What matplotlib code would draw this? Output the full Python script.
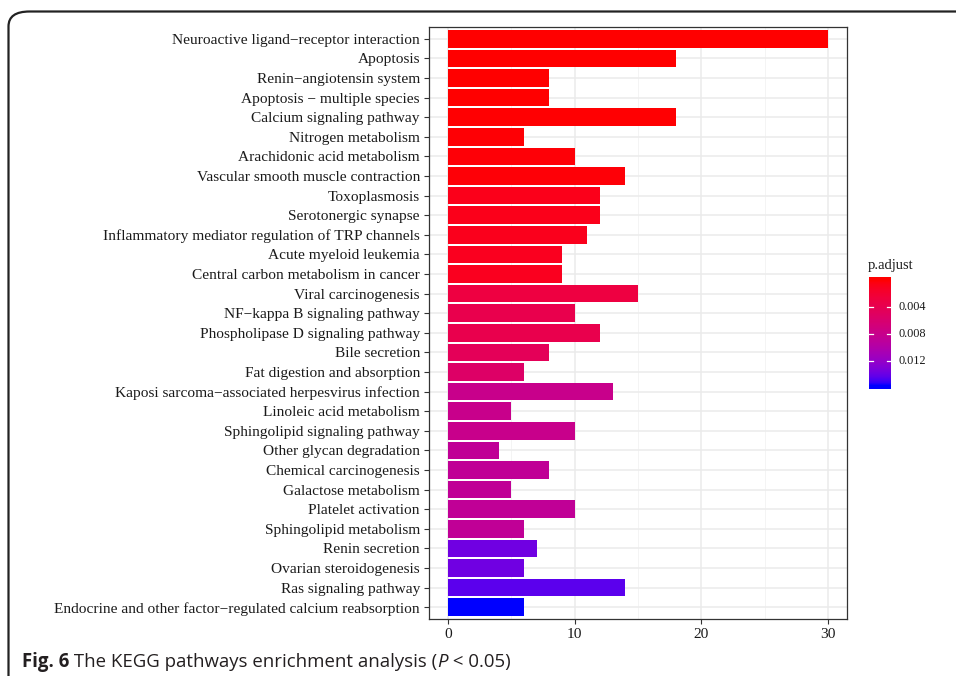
import numpy as np
import matplotlib
matplotlib.use("Agg")
import matplotlib.pyplot as plt
from matplotlib.colors import ListedColormap, Normalize
from matplotlib.patches import FancyBboxPatch

pathways = [
    "Neuroactive ligand\u2212receptor interaction",
    "Apoptosis",
    "Renin\u2212angiotensin system",
    "Apoptosis \u2212 multiple species",
    "Calcium signaling pathway",
    "Nitrogen metabolism",
    "Arachidonic acid metabolism",
    "Vascular smooth muscle contraction",
    "Toxoplasmosis",
    "Serotonergic synapse",
    "Inflammatory mediator regulation of TRP channels",
    "Acute myeloid leukemia",
    "Central carbon metabolism in cancer",
    "Viral carcinogenesis",
    "NF\u2212kappa B signaling pathway",
    "Phospholipase D signaling pathway",
    "Bile secretion",
    "Fat digestion and absorption",
    "Kaposi sarcoma\u2212associated herpesvirus infection",
    "Linoleic acid metabolism",
    "Sphingolipid signaling pathway",
    "Other glycan degradation",
    "Chemical carcinogenesis",
    "Galactose metabolism",
    "Platelet activation",
    "Sphingolipid metabolism",
    "Renin secretion",
    "Ovarian steroidogenesis",
    "Ras signaling pathway",
    "Endocrine and other factor\u2212regulated calcium reabsorption",
]
counts = [30, 18, 8, 8, 18, 6, 10, 14, 12, 12, 11, 9, 9, 15, 10,
          12, 8, 6, 13, 5, 10, 4, 8, 5, 10, 6, 7, 6, 14, 6]
p_adjust = [0.000001, 0.00002, 0.00005, 0.00005, 0.0001, 0.00015, 0.0002, 0.0002,
            0.0008, 0.0008, 0.0009, 0.0010, 0.0010, 0.0030, 0.0038,
            0.0038, 0.0045, 0.0055, 0.0080, 0.0080, 0.0080, 0.0088, 0.0088,
            0.0088, 0.0088, 0.0088, 0.0138, 0.0138, 0.0145, 0.0157]
bar_ticks = [0, 10, 20, 30]
cbar_ticks = [0.004, 0.008, 0.012]


# red -> blue gradient interpolated in CIE Lab, like ggplot's scale_fill_continuous
def srgb_to_lab(rgb):
    c = np.asarray(rgb, float)
    lin = np.where(c <= 0.04045, c / 12.92, ((c + 0.055) / 1.055) ** 2.4)
    m = np.array([[0.4124, 0.3576, 0.1805],
                  [0.2126, 0.7152, 0.0722],
                  [0.0193, 0.1192, 0.9505]])
    xyz = m @ lin / np.array([0.95047, 1.0, 1.08883])
    f = np.where(xyz > 0.008856, np.cbrt(xyz), 7.787 * xyz + 16 / 116)
    return np.array([116 * f[1] - 16, 500 * (f[0] - f[1]), 200 * (f[1] - f[2])])


def lab_to_srgb(lab):
    L, a, b = lab
    fy = (L + 16) / 116
    fx = fy + a / 500
    fz = fy - b / 200
    f = np.array([fx, fy, fz])
    xyz = np.where(f ** 3 > 0.008856, f ** 3, (f - 16 / 116) / 7.787)
    xyz = xyz * np.array([0.95047, 1.0, 1.08883])
    minv = np.array([[3.2406, -1.5372, -0.4986],
                     [-0.9689, 1.8758, 0.0415],
                     [0.0557, -0.2040, 1.0570]])
    lin = np.clip(minv @ xyz, 0, 1)
    c = np.where(lin <= 0.0031308, 12.92 * lin, 1.055 * lin ** (1 / 2.4) - 0.055)
    return np.clip(c, 0, 1)


lab_red = srgb_to_lab([1, 0, 0])
lab_blue = srgb_to_lab([0, 0, 1])
ramp = [lab_to_srgb(lab_red + (lab_blue - lab_red) * t) for t in np.linspace(0, 1, 256)]
cmap = ListedColormap(ramp)
norm = Normalize(vmin=min(p_adjust), vmax=max(p_adjust))

plt.rcParams["font.family"] = "Liberation Serif"

fig = plt.figure(figsize=(9.56, 6.76), dpi=100)
W, H = 956, 676

ax = fig.add_axes([429 / W, 1 - 619 / H, (847 - 429) / W, (619 - 27) / H])
n = len(pathways)
ypos = np.arange(n)
ax.barh(ypos, counts, height=0.9, color=cmap(norm(np.array(p_adjust))), zorder=3)
ax.set_ylim(n - 0.4, -0.6)
ax.set_xlim(-1.5, 31.5)
ax.set_yticks(ypos)
ax.set_yticklabels(pathways, fontsize=11.1, color="#1a1a1a")
ax.set_xticks(bar_ticks)
ax.set_xticklabels([str(t) for t in bar_ticks], fontsize=11.1, color="#1a1a1a")
ax.set_xticks([5, 15, 25], minor=True)
ax.grid(True, which="major", color="#ebebeb", linewidth=1.1, zorder=0)
ax.grid(True, which="minor", axis="x", color="#f2f2f2", linewidth=0.6, zorder=0)
ax.tick_params(axis="both", which="major", length=3.5, width=0.8, color="#333333", pad=3)
ax.tick_params(axis="x", which="minor", length=0)
for s in ax.spines.values():
    s.set_color("#333333")
    s.set_linewidth(0.9)

# colour bar for p.adjust, smallest values on top
cax = fig.add_axes([869 / W, 1 - 389 / H, 22 / W, 112 / H])
pad = 0.00055
lo, hi = min(p_adjust) - pad, max(p_adjust) + pad
grad = np.linspace(lo, hi, 300).reshape(-1, 1)
cax.imshow(grad, aspect="auto", cmap=cmap, norm=norm, extent=[0, 1, hi, lo],
           interpolation="nearest")
cax.set_xlim(0, 1)
cax.set_ylim(hi, lo)
cax.set_xticks([])
cax.set_yticks([])
for s in cax.spines.values():
    s.set_visible(False)
for t in cbar_ticks:
    cax.plot([0, 0.2], [t, t], color="white", lw=0.9)
    cax.plot([0.8, 1], [t, t], color="white", lw=0.9)
    cax.text(1.32, t, "%.3f" % t, fontsize=8.8, va="center", ha="left",
             color="#1a1a1a", transform=cax.transData)
fig.text(868 / W, 1 - 265 / H, "p.adjust", fontsize=10.5, ha="left", va="center",
         color="#1a1a1a")

# rounded figure frame
frame = FancyBboxPatch((8.5 / W, -0.2), 1.2, 1 - 11.5 / H + 0.2,
                       boxstyle="round,pad=0,rounding_size=0.022",
                       transform=fig.transFigure, fill=False,
                       edgecolor="#222222", linewidth=1.6, clip_on=False)
fig.patches.append(frame)

# caption
cap_font = ["Open Sans", "DejaVu Sans"]
renderer = fig.canvas.get_renderer()
x0 = 22 / W
yb = 1 - 667 / H
pieces = [("Fig. 6", "bold", "normal"),
          (" The KEGG pathways enrichment analysis (", "normal", "normal"),
          ("P", "normal", "italic"),
          (" < 0.05)", "normal", "normal")]
for txt, weight, style in pieces:
    t = fig.text(x0, yb, txt, fontsize=13.4, family=cap_font, weight=weight,
                 style=style, ha="left", va="baseline", color="#231f20")
    bb = t.get_window_extent(renderer=renderer)
    x0 += bb.width / W

fig.savefig("out.png", dpi=100)
